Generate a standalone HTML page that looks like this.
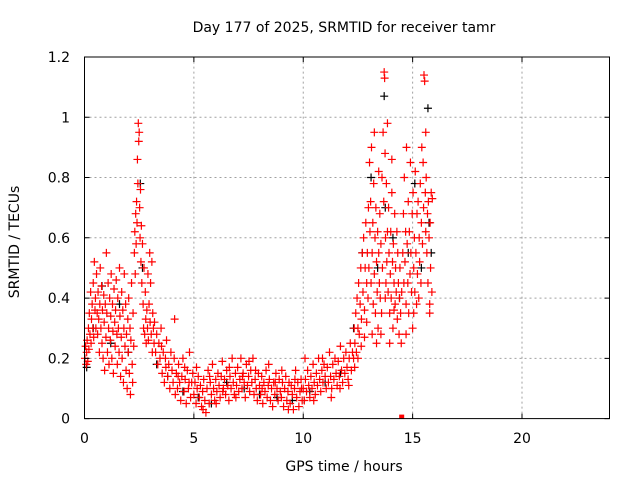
<!DOCTYPE html>
<html><head><meta charset="utf-8"><style>
body{margin:0;background:#fff;}
svg{display:block;font-family:"DejaVu Sans","Liberation Sans",sans-serif;}
</style></head><body>
<svg id="chart" width="640" height="480" viewBox="0 0 640 480" xmlns="http://www.w3.org/2000/svg">
<rect width="640" height="480" fill="#fff"/>
<text x="344" y="32" font-size="14" text-anchor="middle" fill="#000">Day 177 of 2025, SRMTID for receiver tamr</text>
<g id="grid"></g>
<g id="blackpts"></g>
<g id="redpts"></g>
<g id="axes"></g>
<text x="344" y="471" font-size="14" text-anchor="middle" fill="#000">GPS time / hours</text>
<text transform="translate(19,242) rotate(-90)" font-size="14" text-anchor="middle" fill="#000">SRMTID / TECUs</text>
</svg>
<script>
const xTicks=[0,5,10,15,20];
const yTicks=[0,0.2,0.4,0.6,0.8,1,1.2];
const yTickLabels=["0","0.2","0.4","0.6","0.8","1","1.2"];
const redEarly=[[0.02,0.2],[0.05,0.24],[0.08,0.18],[0.1,0.22],[0.12,0.26],[0.15,0.19],[0.18,0.3],[0.2,0.23],[0.22,0.35],[0.25,0.28],[0.28,0.42],[0.3,0.25],[0.32,0.33],[0.35,0.38],[0.38,0.3],[0.4,0.45],[0.42,0.27],[0.45,0.52],[0.48,0.36],[0.5,0.4],[0.52,0.3],[0.55,0.48],[0.58,0.35],[0.6,0.28],[0.62,0.42],[0.65,0.33],[0.68,0.22],[0.7,0.38],[0.72,0.5],[0.75,0.3],[0.78,0.44],[0.8,0.25],[0.82,0.36],[0.85,0.2],[0.88,0.41],[0.9,0.32],[0.92,0.16],[0.95,0.38],[0.98,0.27],[1.0,0.55],[1.02,0.35],[1.05,0.22],[1.08,0.45],[1.1,0.3],[1.12,0.18],[1.15,0.4],[1.18,0.26],[1.2,0.34],[1.22,0.48],[1.25,0.2],[1.28,0.38],[1.3,0.29],[1.32,0.15],[1.35,0.43],[1.38,0.32],[1.4,0.24],[1.42,0.36],[1.45,0.46],[1.48,0.28],[1.5,0.18],[1.52,0.4],[1.55,0.3],[1.58,0.22],[1.6,0.5],[1.62,0.34],[1.65,0.14],[1.68,0.27],[1.7,0.42],[1.72,0.2],[1.75,0.36],[1.78,0.12],[1.8,0.3],[1.82,0.48],[1.85,0.24],[1.88,0.38],[1.9,0.16],[1.92,0.28],[1.95,0.1],[1.98,0.33],[2.0,0.22],[2.02,0.4],[2.05,0.15],[2.08,0.3],[2.1,0.08],[2.12,0.26],[2.15,0.45],[2.18,0.18],[2.2,0.12],[2.22,0.35],[2.25,0.24]];
const redSpike=[[2.28,0.55],[2.3,0.62],[2.32,0.48],[2.34,0.68],[2.36,0.58],[2.38,0.72],[2.4,0.65],[2.42,0.86],[2.44,0.78],[2.46,0.98],[2.48,0.92],[2.5,0.95],[2.52,0.7],[2.54,0.6],[2.56,0.76],[2.58,0.52],[2.6,0.64],[2.62,0.45],[2.65,0.58],[2.68,0.38],[2.7,0.3],[2.72,0.5],[2.75,0.28],[2.78,0.42],[2.8,0.33],[2.82,0.25],[2.85,0.36],[2.88,0.3],[2.9,0.48],[2.92,0.26],[2.95,0.38],[2.98,0.55],[3.0,0.32],[3.02,0.45],[3.05,0.28],[3.08,0.52],[3.1,0.22],[3.12,0.35],[3.15,0.3],[3.18,0.25]];
const redDecay=[[3.2,0.32],[3.25,0.22],[3.3,0.28],[3.35,0.18],[3.4,0.25],[3.45,0.2],[3.5,0.3],[3.55,0.15],[3.6,0.22],[3.65,0.12],[3.7,0.2],[3.75,0.26],[3.8,0.14],[3.85,0.18],[3.9,0.1],[3.95,0.22],[4.0,0.16],[4.05,0.12],[4.1,0.2],[4.15,0.08],[4.2,0.15],[4.25,0.1],[4.3,0.18],[4.35,0.12],[4.4,0.06],[4.45,0.14],[4.5,0.2],[4.55,0.09],[4.6,0.13],[4.65,0.05],[4.7,0.16],[4.75,0.1],[4.8,0.22],[4.85,0.07],[4.9,0.12],[4.95,0.15],[4.12,0.33],[3.52,0.24],[3.72,0.17],[4.28,0.14],[4.58,0.17],[4.78,0.12]];
const redQuiet=[[5.0,0.08],[5.05,0.12],[5.1,0.05],[5.15,0.1],[5.2,0.14],[5.25,0.07],[5.3,0.11],[5.35,0.04],[5.4,0.09],[5.45,0.13],[5.5,0.06],[5.55,0.02],[5.6,0.1],[5.65,0.16],[5.7,0.05],[5.75,0.12],[5.8,0.08],[5.85,0.18],[5.9,0.1],[5.95,0.06],[6.0,0.13],[6.05,0.09],[6.1,0.15],[6.15,0.11],[6.2,0.07],[6.25,0.14],[6.3,0.19],[6.35,0.1],[6.4,0.13],[6.45,0.08],[6.5,0.16],[6.55,0.11],[6.6,0.06],[6.65,0.14],[6.7,0.1],[6.75,0.2],[6.8,0.12],[6.85,0.08],[6.9,0.15],[6.95,0.11],[7.0,0.17],[7.05,0.09],[7.1,0.13],[7.15,0.2],[7.2,0.1],[7.25,0.15],[7.3,0.12],[7.35,0.07],[7.4,0.18],[7.45,0.11],[7.5,0.14],[7.55,0.09],[7.6,0.16],[7.65,0.12],[7.7,0.2],[7.75,0.08],[7.8,0.13],[7.85,0.1],[7.9,0.06],[7.95,0.15],[8.0,0.11],[8.05,0.08],[8.1,0.14],[8.15,0.05],[8.2,0.12],[8.25,0.09],[8.3,0.16],[8.35,0.07],[8.4,0.11],[8.45,0.13],[8.5,0.06],[8.55,0.1],[8.6,0.04],[8.65,0.12],[8.7,0.08],[8.75,0.15],[8.8,0.1],[8.85,0.06],[8.9,0.13],[8.95,0.09],[9.0,0.07],[9.05,0.12],[9.1,0.04],[9.15,0.1],[9.2,0.14],[9.25,0.06],[9.3,0.09],[9.35,0.12],[9.4,0.05],[9.45,0.11],[9.5,0.08],[9.55,0.03],[9.6,0.1],[9.65,0.16],[9.7,0.07],[9.75,0.12],[9.8,0.04],[9.85,0.09],[9.9,0.13],[9.95,0.06],[5.12,0.17],[5.42,0.03],[5.72,0.14],[6.02,0.05],[6.32,0.09],[6.62,0.17],[6.92,0.07],[7.22,0.14],[7.52,0.19],[7.82,0.16],[8.12,0.1],[8.42,0.18],[8.72,0.12],[9.02,0.16],[9.32,0.03],[9.62,0.13],[9.92,0.1]];
const redEvening=[[10.0,0.1],[10.05,0.06],[10.1,0.13],[10.15,0.09],[10.2,0.16],[10.25,0.11],[10.3,0.07],[10.35,0.14],[10.4,0.1],[10.45,0.18],[10.5,0.12],[10.55,0.08],[10.6,0.15],[10.65,0.11],[10.7,0.2],[10.75,0.13],[10.8,0.09],[10.85,0.16],[10.9,0.12],[10.95,0.18],[11.0,0.14],[11.05,0.1],[11.1,0.17],[11.15,0.12],[11.2,0.22],[11.25,0.14],[11.3,0.1],[11.35,0.18],[11.4,0.13],[11.45,0.2],[11.5,0.15],[11.55,0.11],[11.6,0.19],[11.65,0.14],[11.7,0.24],[11.75,0.16],[11.8,0.12],[11.85,0.2],[11.9,0.15],[11.95,0.22],[12.0,0.17],[12.05,0.13],[12.1,0.2],[12.15,0.25],[12.2,0.16],[12.25,0.22],[10.08,0.2],[10.48,0.06],[10.88,0.2],[11.28,0.07],[11.68,0.1],[12.08,0.11]];
const redRise=[[12.3,0.2],[12.33,0.3],[12.36,0.25],[12.4,0.35],[12.43,0.22],[12.46,0.4],[12.5,0.3],[12.53,0.45],[12.56,0.28],[12.6,0.38],[12.63,0.5],[12.66,0.33],[12.7,0.55],[12.73,0.42],[12.76,0.6],[12.8,0.36],[12.83,0.5],[12.86,0.65],[12.9,0.45],[12.93,0.55],[12.96,0.4],[12.98,0.7],[12.35,0.17],[12.5,0.2],[12.65,0.24],[12.8,0.27],[12.9,0.32]];
const redStorm=[[13.0,0.5],[13.03,0.85],[13.05,0.62],[13.08,0.72],[13.1,0.45],[13.12,0.9],[13.15,0.55],[13.18,0.65],[13.2,0.38],[13.22,0.78],[13.25,0.48],[13.28,0.6],[13.3,0.35],[13.32,0.7],[13.35,0.52],[13.38,0.42],[13.4,0.62],[13.42,0.3],[13.45,0.55],[13.48,0.45],[13.5,0.68],[13.52,0.4],[13.55,0.58],[13.58,0.35],[13.6,0.8],[13.62,0.5],[13.65,0.95],[13.68,0.72],[13.7,1.15],[13.72,1.13],[13.74,0.88],[13.76,0.6],[13.78,0.45],[13.8,0.78],[13.82,0.52],[13.85,0.62],[13.88,0.42],[13.9,0.7],[13.92,0.55],[13.95,0.35],[13.98,0.48],[14.0,0.62],[14.02,0.4],[14.05,0.75],[14.08,0.52],[14.1,0.3],[14.12,0.58],[14.15,0.45],[14.18,0.68],[14.2,0.38],[14.22,0.5],[14.25,0.42],[14.28,0.62],[14.3,0.33],[14.32,0.55],[14.35,0.45],[14.38,0.28],[14.4,0.4],[14.42,0.5],[14.45,0.35],[14.48,0.25],[14.5,0.42],[13.15,0.28],[13.35,0.25],[13.55,0.28],[13.75,0.4],[13.95,0.25],[14.15,0.36],[13.25,0.95],[13.45,0.82],[13.85,0.98],[14.05,0.86]];
const redLate=[[14.55,0.55],[14.58,0.68],[14.6,0.45],[14.62,0.8],[14.65,0.52],[14.68,0.62],[14.7,0.38],[14.72,0.9],[14.75,0.58],[14.78,0.45],[14.8,0.72],[14.82,0.35],[14.85,0.62],[14.88,0.48],[14.9,0.85],[14.92,0.55],[14.95,0.42],[14.98,0.68],[15.0,0.3],[15.02,0.75],[15.05,0.5],[15.08,0.6],[15.1,0.42],[15.12,0.82],[15.15,0.55],[15.18,0.38],[15.2,0.68],[15.22,0.48],[15.25,0.72],[15.28,0.4],[15.3,0.6],[15.32,0.52],[15.35,0.78],[15.38,0.45],[15.4,0.65],[15.42,0.9],[15.45,0.58],[15.48,0.85],[15.5,0.7],[15.52,1.14],[15.55,1.12],[15.58,0.75],[15.6,0.62],[15.62,0.8],[15.65,0.55],[15.68,0.68],[15.7,0.45],[15.72,0.72],[15.75,0.6],[15.78,0.38],[15.8,0.65],[15.82,0.5],[15.85,0.75],[15.88,0.42],[15.9,0.73],[15.78,0.35],[15.6,0.95],[14.7,0.28],[15.05,0.35]];
const redZero=[[14.5,0.0]];
const blackPoints=[[0.1,0.17],[0.4,0.3],[0.8,0.44],[1.2,0.25],[1.6,0.38],[2.0,0.22],[2.55,0.78],[2.65,0.5],[3.3,0.18],[3.8,0.14],[4.5,0.09],[5.2,0.07],[5.8,0.05],[6.5,0.12],[7.3,0.1],[8.0,0.08],[8.8,0.07],[9.5,0.06],[10.3,0.09],[11.0,0.12],[11.7,0.15],[12.3,0.3],[12.7,0.55],[13.1,0.8],[13.4,0.5],[13.7,1.07],[13.75,0.7],[14.1,0.6],[14.4,0.4],[14.8,0.55],[15.1,0.78],[15.4,0.5],[15.7,1.03],[15.75,0.65],[15.85,0.55]];
const X0=84.5,X1=609.5,Y0=418.6,Y1=57;
const xs=v=>X0+(v/24)*(X1-X0);
const ys=v=>Y0-(v/1.2)*(Y0-Y1);
const NS="http://www.w3.org/2000/svg";
function mk(tag,attrs,parent){const e=document.createElementNS(NS,tag);for(const k in attrs)e.setAttribute(k,attrs[k]);parent.appendChild(e);return e;}
const grid=document.getElementById('grid'),axes=document.getElementById('axes');
xTicks.forEach(t=>{const x=xs(t);
 if(t>0){const l=mk('line',{x1:x,y1:Y0,x2:x,y2:Y1,stroke:'#a0a0a0','stroke-dasharray':'2,3'},grid);}
 const tk=mk('path',{d:`M${x},${Y0}v-5M${x},${Y1}v5`,stroke:'#000'},axes);
 const tx=mk('text',{x:x,y:443,'font-size':14,'text-anchor':'middle',fill:'#000'},axes);tx.textContent=t;});
yTicks.forEach((t,i)=>{const y=ys(t);
 if(t>0&&t<1.2){const l=mk('line',{x1:X0,y1:y,x2:X1,y2:y,stroke:'#a0a0a0','stroke-dasharray':'2,3'},grid);}
 const tk=mk('path',{d:`M${X0},${y}h5M${X1},${y}h-5`,stroke:'#000'},axes);
 const tx=mk('text',{x:70,y:y+5,'font-size':14,'text-anchor':'end',fill:'#000'},axes);tx.textContent=yTickLabels[i];});
const fr=mk('rect',{x:X0,y:Y1,width:X1-X0,height:Y0-Y1,fill:'none',stroke:'#000'},axes);


function plus(g,t,v,c,name){const x=xs(t),y=ys(v);const p=mk('path',{d:`M${x-4},${y}h8M${x},${y-4}v8`,stroke:c,'stroke-width':1.2},g);}
const bg=document.getElementById('blackpts'),rg=document.getElementById('redpts');
blackPoints.forEach(p=>plus(bg,p[0],p[1],'#000','black-point'));
[redEarly,redSpike,redDecay,redQuiet,redEvening,redRise,redStorm,redLate].forEach(s=>s.forEach(p=>plus(rg,p[0],p[1],'#f00','red-point')));
redZero.forEach(p=>{const r=mk('rect',{x:xs(p[0])-2.5,y:ys(p[1])-4,width:5,height:4,fill:'#f00'},rg);});
</script>
</body></html>
